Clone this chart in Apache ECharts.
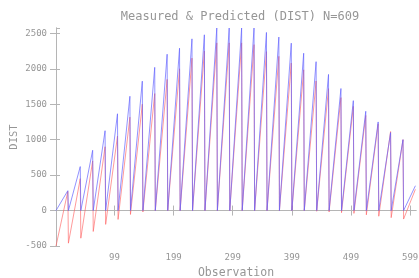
<!DOCTYPE html>
<html><head><meta charset="utf-8">
<script src="https://cdn.jsdelivr.net/npm/echarts@6/dist/echarts.min.js"></script>
<style>html,body{margin:0;padding:0;background:#fff}#c{width:419px;height:278px}</style>
</head><body><div id="c"></div>
<script>
// observation index of each cycle's peak
const peakObs = [20,41,62,83,104,125,146,167,188,209,230,251,272,293,314,335,356,377,398,419,440,461,482,503,524,545,566,587,608];
// measured (blue) peak values and trough values after each peak
const measuredPeaks = [280,620,850,1126,1365,1612,1825,2020,2205,2290,2422,2479,2575,2575,2575,2575,2512,2447,2361,2219,2100,1920,1721,1550,1400,1250,1100,1000,350];
const measuredTroughs = [0,0,0,0,0,0,0,0,0,0,0,0,0,0,0,0,0,0,0,0,0,0,0,0,0,0,0,0,0];
const measuredStart = 0;
// predicted (red)
const predictedPeaks = [270,450,700,900,1050,1317,1500,1650,1850,2000,2150,2250,2365,2365,2365,2340,2242,2175,2080,1985,1828,1720,1593,1470,1341,1223,1114,1000,300];
const predictedTroughs = [-460,-390,-295,-195,-125,-55,-20,0,0,0,0,0,0,0,0,0,0,0,0,0,-10,-20,-30,-40,-60,-80,-100,-120,-130];
const predictedStart = -500;
const xTicks = [99,199,299,399,499,599];

function build(start, peaks, troughs){
  const d = [[0, start]];
  for (let i=0;i<peakObs.length;i++){
    d.push([peakObs[i], peaks[i]]);
    if (i < peakObs.length-1) d.push([peakObs[i]+1, troughs[i]]);
  }
  return d;
}

const axisCol = '#b5b5b5', txtCol = '#969696', font = 'DejaVu Sans Mono';
const chart = echarts.init(document.getElementById('c'), null, {renderer:'canvas'});
chart.setOption({
  animation:false,
  title:{text:'Measured & Predicted (DIST) N=609', left:235, top:6, textAlign:'center',
    textStyle:{fontFamily:font, fontSize:12, fontWeight:'normal', color:txtCol}},
  grid:{left:56, right:3, top:28, bottom:32, containLabel:false, outerBoundsMode:'none'},
  xAxis:[{type:'value', min:0, max:609, position:'bottom',
    name:'Observation', nameLocation:'middle', nameGap:21, nameMoveOverlap:false,
    nameTextStyle:{fontFamily:font, fontSize:11.5, color:txtCol},
    axisLine:{lineStyle:{color:axisCol}}, splitLine:{show:false},
    axisTick:{customValues:xTicks, length:5, lineStyle:{color:axisCol}},
    axisLabel:{customValues:xTicks, fontFamily:font, fontSize:9, color:txtCol, margin:7}},
   {type:'value', min:0, max:609, position:'top',
    axisLine:{lineStyle:{color:axisCol}}, splitLine:{show:false},
    axisTick:{customValues:xTicks, length:5, lineStyle:{color:axisCol}},
    axisLabel:{show:false}}],
  yAxis:[{type:'value', min:-500, max:2575, interval:500, position:'left',
    name:'DIST', nameLocation:'middle', nameGap:36, nameRotate:90, nameMoveOverlap:false,
    nameTextStyle:{fontFamily:font, fontSize:10.5, color:txtCol},
    axisLine:{show:true, lineStyle:{color:axisCol}}, splitLine:{show:false},
    axisTick:{show:true, length:6, lineStyle:{color:axisCol}},
    axisLabel:{fontFamily:font, fontSize:9, color:txtCol, margin:9,
      showMaxLabel:false, formatter:v=>String(v)}},
   {type:'value', min:-500, max:2575, interval:500, position:'right',
    axisLine:{show:true, lineStyle:{color:axisCol}}, splitLine:{show:false},
    axisTick:{show:true, length:4, lineStyle:{color:axisCol}},
    axisLabel:{show:false}}],
  series:[
    {type:'line', name:'Measured', data:build(measuredStart, measuredPeaks, measuredTroughs),
     showSymbol:false, lineStyle:{width:1, color:'rgba(100,100,255,0.7)'}, z:3},
    {type:'line', name:'Predicted', data:build(predictedStart, predictedPeaks, predictedTroughs),
     showSymbol:false, lineStyle:{width:1, color:'rgba(255,100,100,0.65)'}, z:2}
  ]
});
</script></body></html>
